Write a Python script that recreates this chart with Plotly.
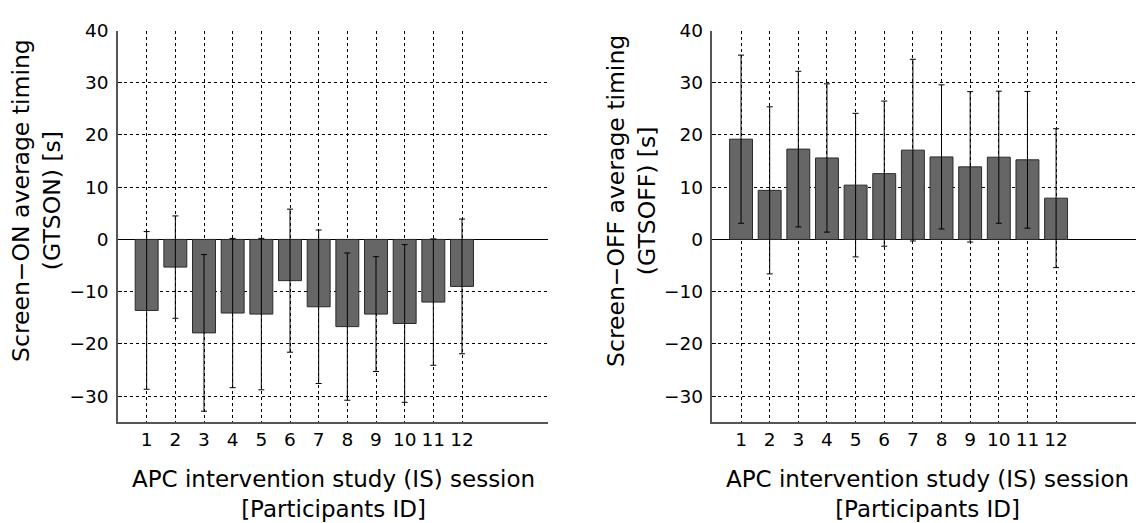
import plotly.graph_objects as go

participants = list(range(1, 13))
tick_labels = [str(p) for p in participants]

gtson_mean = [-13.6, -5.3, -17.9, -14.1, -14.3, -7.9, -12.9, -16.7, -14.3, -16.1, -12.0, -9.0]
gtson_std = [15.1, 9.8, 15.0, 14.3, 14.5, 13.7, 14.7, 14.1, 11.0, 15.1, 12.1, 12.9]

gtsoff_mean = [19.2, 9.4, 17.3, 15.6, 10.4, 12.6, 17.1, 15.8, 13.9, 15.75, 15.25, 7.9]
gtsoff_std = [16.1, 16.0, 14.9, 14.2, 13.75, 13.9, 17.4, 13.8, 14.4, 12.65, 13.1, 13.3]

W, H = 1136, 523
FONT = "DejaVu Sans, Liberation Sans, Arial, sans-serif"

def px_x(p):
    return p / W

def px_y(p):
    return 1 - p / H

fig = go.Figure()

bar_style = dict(marker=dict(color="#666666", line=dict(color="#2a2a2a", width=1)),
                 width=0.8, showlegend=False)

fig.add_trace(go.Bar(x=participants, y=gtson_mean,
                     error_y=dict(type="data", array=gtson_std, color="black", thickness=1, width=3),
                     xaxis="x", yaxis="y", **bar_style))
fig.add_trace(go.Bar(x=participants, y=gtsoff_mean,
                     error_y=dict(type="data", array=gtsoff_std, color="black", thickness=1, width=3),
                     xaxis="x2", yaxis="y2", **bar_style))

top_px, bot_px = 20, 420
ydom = [px_y(bot_px), px_y(top_px)]

xaxis_common = dict(
    tickmode="array", tickvals=participants, ticktext=tick_labels,
    showgrid=True, gridcolor="black", gridwidth=1, griddash="3px,3px",
    showline=True, linecolor="#555555", linewidth=1.5, mirror=False,
    ticks="", zeroline=False,
    tickfont=dict(family=FONT, size=18.5, color="black"),
)
yaxis_common = dict(
    range=[-35, 40], tickmode="array", tickvals=[-30, -20, -10, 0, 10, 20, 30, 40],
    showgrid=True, gridcolor="black", gridwidth=1, griddash="3px,3px",
    showline=True, linecolor="#555555", linewidth=1.5, mirror=False,
    zeroline=True, zerolinecolor="black", zerolinewidth=1,
    ticks="inside", ticklen=4, tickcolor="black",
    tickfont=dict(family=FONT, size=18.5, color="black"),
    ticklabelstandoff=4,
    domain=ydom,
)

fig.update_layout(
    width=W, height=H,
    margin=dict(l=0, r=0, t=0, b=0),
    paper_bgcolor="white", plot_bgcolor="white",
    xaxis=dict(domain=[px_x(118), px_x(548)], range=[0, 15], anchor="y", **xaxis_common),
    yaxis=dict(anchor="x", **yaxis_common),
    xaxis2=dict(domain=[px_x(712.4), 1.0], range=[0, (W - 712.4) / 28.64], anchor="y2", **xaxis_common),
    yaxis2=dict(anchor="x2", **yaxis_common),
)

xt = "APC intervention study (IS) session<br>[Participants ID]"
ann_font = dict(family=FONT, size=23, color="black")
fig.add_annotation(text=xt, xref="paper", yref="paper", x=px_x(333), y=px_y(493),
                   showarrow=False, font=ann_font, xanchor="center", yanchor="middle")
fig.add_annotation(text=xt, xref="paper", yref="paper", x=px_x(927), y=px_y(493),
                   showarrow=False, font=ann_font, xanchor="center", yanchor="middle")
fig.add_annotation(text="Screen\u2212ON average timing<br>(GTSON) [s]", xref="paper", yref="paper",
                   x=px_x(37), y=px_y(194), textangle=-90, showarrow=False,
                   font=dict(family=FONT, size=23.5, color="black"), xanchor="center", yanchor="middle")
fig.add_annotation(text="Screen\u2212OFF average timing<br>(GTSOFF) [s]", xref="paper", yref="paper",
                   x=px_x(632), y=px_y(194), textangle=-90, showarrow=False,
                   font=dict(family=FONT, size=23.5, color="black"), xanchor="center", yanchor="middle")

fig.write_html("out.html")
